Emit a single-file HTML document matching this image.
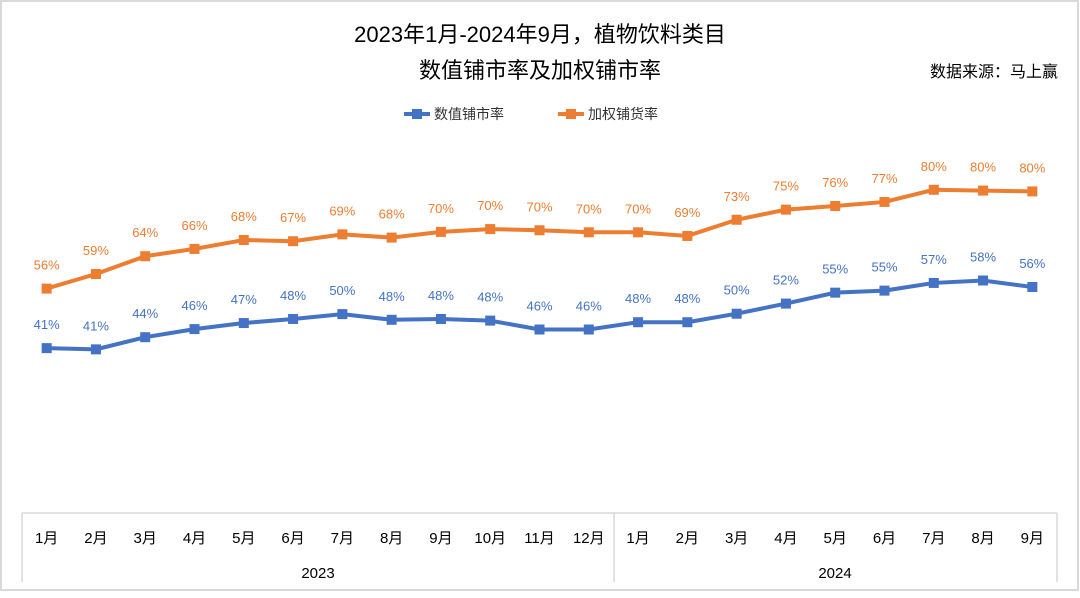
<!DOCTYPE html>
<html><head><meta charset="utf-8"><style>
body{margin:0;background:#fff;}
svg text{font-family:"Liberation Sans","Noto Sans CJK SC",sans-serif;}
</style></head><body>
<svg width="1080" height="593" viewBox="0 0 1080 593">
<rect x="1" y="1" width="1077" height="589" fill="#fff" stroke="#d9d9d9" stroke-width="2"/>
<text x="540" y="42" text-anchor="middle" font-size="22" fill="#000">2023年1月-2024年9月，植物饮料类目</text>
<text x="540" y="78" text-anchor="middle" font-size="22" fill="#000">数值铺市率及加权铺市率</text>
<text x="1058" y="77" text-anchor="end" font-size="16" fill="#000">数据来源：马上赢</text>
<g>
<g>
<line x1="404" y1="114" x2="430" y2="114" stroke="#4472c4" stroke-width="4"/><rect x="412" y="109" width="10" height="10" fill="#4472c4"/>
<text x="434" y="119" font-size="14" fill="#333">数值铺市率</text></g>
<g>
<line x1="558" y1="114" x2="584" y2="114" stroke="#ed7d31" stroke-width="4"/><rect x="566" y="109" width="10" height="10" fill="#ed7d31"/>
<text x="588" y="119" font-size="14" fill="#333">加权铺货率</text></g>
</g>
<g>
<line x1="22" y1="513" x2="1057" y2="513" stroke="#d9d9d9" stroke-width="1.5"/>
<line x1="22" y1="513" x2="22" y2="582" stroke="#d9d9d9" stroke-width="1.5"/>
<line x1="614" y1="513" x2="614" y2="582" stroke="#d9d9d9" stroke-width="1.5"/>
<line x1="1057" y1="513" x2="1057" y2="582" stroke="#d9d9d9" stroke-width="1.5"/>
<text x="318" y="578" text-anchor="middle" font-size="15" fill="#000">2023</text>
<text x="835" y="578" text-anchor="middle" font-size="15" fill="#000">2024</text>
<g id="ticks"></g>
</g>
<g id="series"></g>
</svg>
<script>
const categories=["1月","2月","3月","4月","5月","6月","7月","8月","9月","10月","11月","12月","1月","2月","3月","4月","5月","6月","7月","8月","9月"];
const numericRate=[41.2,40.9,43.9,45.9,47.4,48.4,49.6,48.2,48.4,48.0,45.8,45.8,47.6,47.6,49.7,52.2,54.9,55.4,57.3,57.9,56.3];
const weightedRate=[55.9,59.5,63.9,65.7,67.9,67.6,69.3,68.5,69.9,70.6,70.3,69.8,69.8,68.9,72.9,75.4,76.3,77.3,80.3,80.1,79.9];
const numericLabels=["41%","41%","44%","46%","47%","48%","50%","48%","48%","48%","46%","46%","48%","48%","50%","52%","55%","55%","57%","58%","56%"];
const weightedLabels=["56%","59%","64%","66%","68%","67%","69%","68%","70%","70%","70%","70%","70%","69%","73%","75%","76%","77%","80%","80%","80%"];
const NS="http://www.w3.org/2000/svg";
const x0=22,x1=1057,bw=(x1-x0)/categories.length;
const xs=i=>x0+bw*(i+0.5);
const ys=v=>515-v*4.05;
const ticks=document.getElementById('ticks');
categories.forEach((c,i)=>{
 const t=document.createElementNS(NS,'text');
 t.setAttribute('x',xs(i));t.setAttribute('y',543);t.setAttribute('text-anchor','middle');
 t.setAttribute('font-size','15');t.setAttribute('fill','#000');t.textContent=c;
 
 
 ticks.appendChild(t);
});
const g=document.getElementById('series');
function draw(vals,labels,color,name){
 const p=document.createElementNS(NS,'polyline');
 p.setAttribute('points',vals.map((v,i)=>xs(i)+','+ys(v)).join(' '));
 p.setAttribute('fill','none');p.setAttribute('stroke',color);p.setAttribute('stroke-width','4');
 
 
 g.appendChild(p);
 vals.forEach((v,i)=>{
  const r=document.createElementNS(NS,'rect');
  r.setAttribute('x',xs(i)-5);r.setAttribute('y',ys(v)-5);r.setAttribute('width',10);r.setAttribute('height',10);
  r.setAttribute('fill',color);
  
  
  g.appendChild(r);
  const t=document.createElementNS(NS,'text');
  t.setAttribute('x',xs(i));t.setAttribute('y',ys(v)-19);t.setAttribute('text-anchor','middle');
  t.setAttribute('font-size','13');t.setAttribute('fill',color);t.textContent=labels[i];
  
  
  g.appendChild(t);
 });
}
draw(weightedRate,weightedLabels,'#ed7d31','weighted-rate');
draw(numericRate,numericLabels,'#4472c4','numeric-rate');
</script>
</body></html>
